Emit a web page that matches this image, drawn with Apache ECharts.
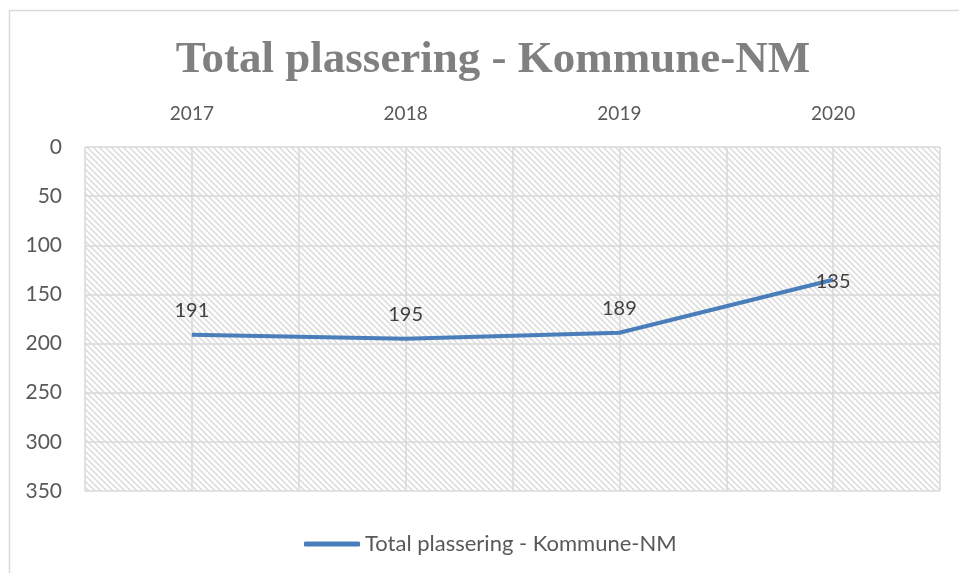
<!DOCTYPE html>
<html>
<head>
<meta charset="utf-8">
<script src="https://cdn.jsdelivr.net/npm/echarts@6/dist/echarts.min.js"></script>
<style>
  html, body { margin: 0; padding: 0; background: #fff; }
  #chart { width: 959px; height: 573px; }
</style>
</head>
<body>
<div id="chart"></div>
<script>
const years = ['2017', '2018', '2019', '2020'];
const placement = [191, 195, 189, 135];
const seriesName = 'Total plassering - Kommune-NM';

// hatch fill like Excel's "wide downward diagonal"
function makeHatch() {
  const c = document.createElement('canvas');
  c.width = 6;
  c.height = 6;
  const ctx = c.getContext('2d');
  ctx.fillStyle = '#ffffff';
  ctx.fillRect(0, 0, 6, 6);
  ctx.strokeStyle = '#dedede';
  ctx.lineWidth = 1.6;
  ctx.beginPath();
  ctx.moveTo(-2, -2);
  ctx.lineTo(8, 8);
  ctx.moveTo(-2, 4);
  ctx.lineTo(2, 8);
  ctx.moveTo(4, -2);
  ctx.lineTo(8, 2);
  ctx.stroke();
  return c;
}

const chart = echarts.init(document.getElementById('chart'));
const font = 'Lato, "Open Sans", sans-serif';
const gridColor = '#d9d9d9';
const lineColor = '#4a7ebb';

chart.setOption({
  animation: false,
  title: {
    text: 'Total plassering - Kommune-NM',
    left: 488,
    textAlign: 'center',
    top: 33,
    textStyle: {
      fontFamily: '"Liberation Serif", serif',
      fontWeight: 'bold',
      fontSize: 45,
      color: '#808080'
    }
  },
  graphic: [{
    type: 'rect',
    z: -10,
    shape: { x: 9.5, y: 10.5, width: 1000, height: 700 },
    style: { fill: 'none', stroke: gridColor, lineWidth: 1.5 }
  }],
  grid: {
    left: 85,
    right: 19,
    top: 147,
    bottom: 82,
    show: true,
    borderWidth: 0,
    backgroundColor: { image: makeHatch(), repeat: 'repeat' }
  },
  legend: {
    bottom: 13,
    left: 299,
    icon: 'roundRect',
    itemWidth: 56,
    itemHeight: 5,
    itemGap: 6,
    itemStyle: { color: lineColor },
    textStyle: { fontFamily: font, fontSize: 22, color: '#595959' },
    data: [seriesName]
  },
  xAxis: [{
    type: 'category',
    position: 'top',
    data: years,
    boundaryGap: true,
    axisLine: { show: false },
    axisTick: { show: false },
    axisLabel: { margin: 24, fontFamily: font, fontSize: 19, color: '#595959' },
    splitLine: { show: false }
  }, {
    // extra axis only for the vertical gridlines at centres and boundaries
    type: 'category',
    position: 'top',
    data: ['', '', '', '', '', '', '', ''],
    boundaryGap: true,
    axisLine: { show: false },
    axisTick: { show: false },
    axisLabel: { show: false },
    splitLine: { show: true, interval: 0, lineStyle: { color: gridColor, width: 1.5 } }
  }],
  yAxis: {
    type: 'value',
    inverse: true,
    min: 0,
    max: 350,
    interval: 50,
    axisLine: { show: false },
    axisTick: { show: false },
    axisLabel: { margin: 23, fontFamily: font, fontSize: 21, color: '#595959' },
    splitLine: { show: true, lineStyle: { color: gridColor, width: 1.5 } }
  },
  series: [{
    name: seriesName,
    type: 'line',
    xAxisIndex: 0,
    data: placement.map((v, i) => i === placement.length - 1
      ? { value: v, label: { offset: [0, 26] } }
      : v),
    symbol: 'circle',
    symbolSize: 0.1,
    showSymbol: true,
    lineStyle: { color: lineColor, width: 4 },
    itemStyle: { color: lineColor },
    label: {
      show: true,
      position: 'top',
      distance: 14,
      fontFamily: font,
      fontSize: 20,
      color: '#404040'
    }
  }]
});
</script>
</body>
</html>
